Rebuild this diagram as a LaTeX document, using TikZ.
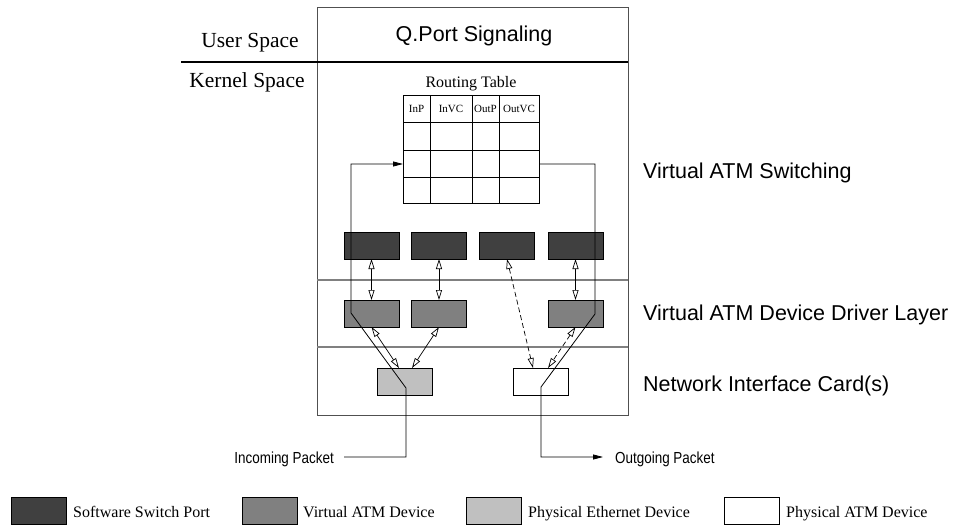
\documentclass[tikz,border=0pt]{standalone}
\usepackage{fontspec}
\setmainfont{Liberation Serif}
\newfontfamily\labelsans{Liberation Sans}
\newfontfamily\narrowsans[FakeStretch=0.84]{Liberation Sans}
\usetikzlibrary{arrows.meta}

\definecolor{portfill}{HTML}{404040}
\definecolor{vdevfill}{HTML}{808080}
\definecolor{ethfill}{HTML}{C0C0C0}
\definecolor{framegray}{HTML}{505050}
\definecolor{layergray}{HTML}{808080}

\begin{document}
\begin{tikzpicture}[x=1pt,y=-1pt,
  dev/.style={draw=black, line width=0.9pt, minimum width=55pt, minimum height=27pt,
              inner sep=0pt, outer sep=0pt},
  port/.style={dev, fill=portfill},
  vdev/.style={dev, fill=vdevfill},
  ethdev/.style={dev, fill=ethfill},
  atmdev/.style={dev, fill=white},
  link/.style={line width=0.7pt,
    {Triangle[open,length=10pt,width=6pt]}-{Triangle[open,length=10pt,width=6pt]}},
  dlink/.style={link, dash pattern=on 5pt off 3pt},
  flow/.style={line width=0.8pt},
  flowarrow/.style={flow, -{Triangle[length=10pt,width=5pt]}},
  bigserif/.style={font=\fontsize{21.5}{24}\selectfont, inner sep=0pt, anchor=base},
  bigsans/.style={font=\labelsans\fontsize{21.5}{24}\selectfont, inner sep=0pt},
  midserif/.style={font=\fontsize{16}{18}\selectfont, inner sep=0pt},
  headcell/.style={font=\fontsize{11}{12}\selectfont, inner sep=0pt, anchor=base},
  narrowlbl/.style={font=\narrowsans\fontsize{16}{18}\selectfont, inner sep=0pt},
  frame/.style={draw=framegray, line width=1pt},
  layerline/.style={draw=layergray, line width=1.3pt},
  tableline/.style={draw=black, line width=1pt},
]
\useasboundingbox (0,0) rectangle (956,527);

% kernel frame and layer separators
\draw[frame] (317,8) rectangle (628,415);
\draw[line width=2pt] (181,62) -- (628,62);
\draw[layerline] (317,280) -- (628,280);
\draw[layerline] (317,347) -- (628,347);

% side labels
\node[bigserif] (userlbl) at (250,48) {User Space};
\node[bigserif] (kernlbl) at (247,88) {Kernel Space};
\node[bigsans, anchor=base] (qport) at (474,42) {Q.Port Signaling};
\node[bigsans, anchor=base west] (vswitch) at (643,178) {Virtual ATM Switching};
\node[bigsans, anchor=base west] (vdriver) at (643,320) {Virtual ATM Device Driver Layer};
\node[bigsans, anchor=base west] (nic) at (643,391) {Network Interface Card(s)};

% routing table
\node[midserif, anchor=base] (rtlbl) at (471,88) {Routing Table};
\node[tableline, minimum width=136pt, minimum height=108pt, inner sep=0pt, outer sep=0pt]
  (rt) at (471,149) {};
\draw[tableline] (403,122) -- (539,122);
\draw[tableline] (403,150) -- (539,150);
\draw[tableline] (403,177) -- (539,177);
\draw[tableline] (430,95) -- (430,203);
\draw[tableline] (472,95) -- (472,203);
\draw[tableline] (499,95) -- (499,203);
\node[headcell] (hinp) at (416.5,113) {InP};
\node[headcell] (hinvc) at (451,113) {InVC};
\node[headcell] (houtp) at (485.5,113) {OutP};
\node[headcell] (houtvc) at (519,113) {OutVC};

% software switch ports
\node[port] (sp1) at (371.5,245.5) {};
\node[port] (sp2) at (439,245.5) {};
\node[port] (sp3) at (507,245.5) {};
\node[port] (sp4) at (575.5,245.5) {};

% virtual ATM devices
\node[vdev] (vd1) at (371.5,313.5) {};
\node[vdev] (vd2) at (439,313.5) {};
\node[vdev] (vd4) at (575.5,313.5) {};

% physical devices
\node[ethdev] (eth) at (405,381.5) {};
\node[atmdev] (atm) at (540.5,381.5) {};

% port <-> device bindings
\draw[link] (sp1.south) -- (vd1.north);
\draw[link] (sp2.south) -- (vd2.north);
\draw[link] (sp4.south) -- (vd4.north);
\draw[link] (vd1.south) -- ([xshift=-6pt]eth.north);
\draw[link] (vd2.south) -- ([xshift=7pt]eth.north);
\draw[dlink] (sp3.south) -- ([xshift=-7.5pt]atm.north);
\draw[dlink] (vd4.south) -- ([xshift=7.5pt]atm.north);

% packet path
\node[narrowlbl, anchor=base east] (inlbl) at (334,463) {Incoming Packet};
\node[narrowlbl, anchor=base west] (outlbl) at (615,463) {Outgoing Packet};

\coordinate (inStart) at (344,457);
\coordinate (inA) at (406,457);
\coordinate (inB) at (406,388);
\coordinate (inC) at (351,313);
\coordinate (inD) at (351,164);
\draw[flowarrow] (inStart) -- (inA) -- (inB) -- (inC) -- (inD) -- (rt.west |- inD);

\coordinate (outA) at (595,164);
\coordinate (outB) at (595,314);
\coordinate (outC) at (541,387);
\coordinate (outD) at (541,457);
\coordinate (outEnd) at (603,457);
\draw[flowarrow] (rt.east |- outA) -- (outA) -- (outB) -- (outC) -- (outD) -- (outEnd);

% legend
\node[port] (lg1) at (38.5,510.5) {};
\node[vdev] (lg2) at (269.5,510.5) {};
\node[ethdev] (lg3) at (493.5,510.5) {};
\node[atmdev] (lg4) at (751.5,510.5) {};
\node[midserif, anchor=base west] (lt1) at (73,517) {Software Switch Port};
\node[midserif, anchor=base west] (lt2) at (303,517) {Virtual ATM Device};
\node[midserif, anchor=base west] (lt3) at (528,517) {Physical Ethernet Device};
\node[midserif, anchor=base west] (lt4) at (786,517) {Physical ATM Device};
\end{tikzpicture}
\end{document}
